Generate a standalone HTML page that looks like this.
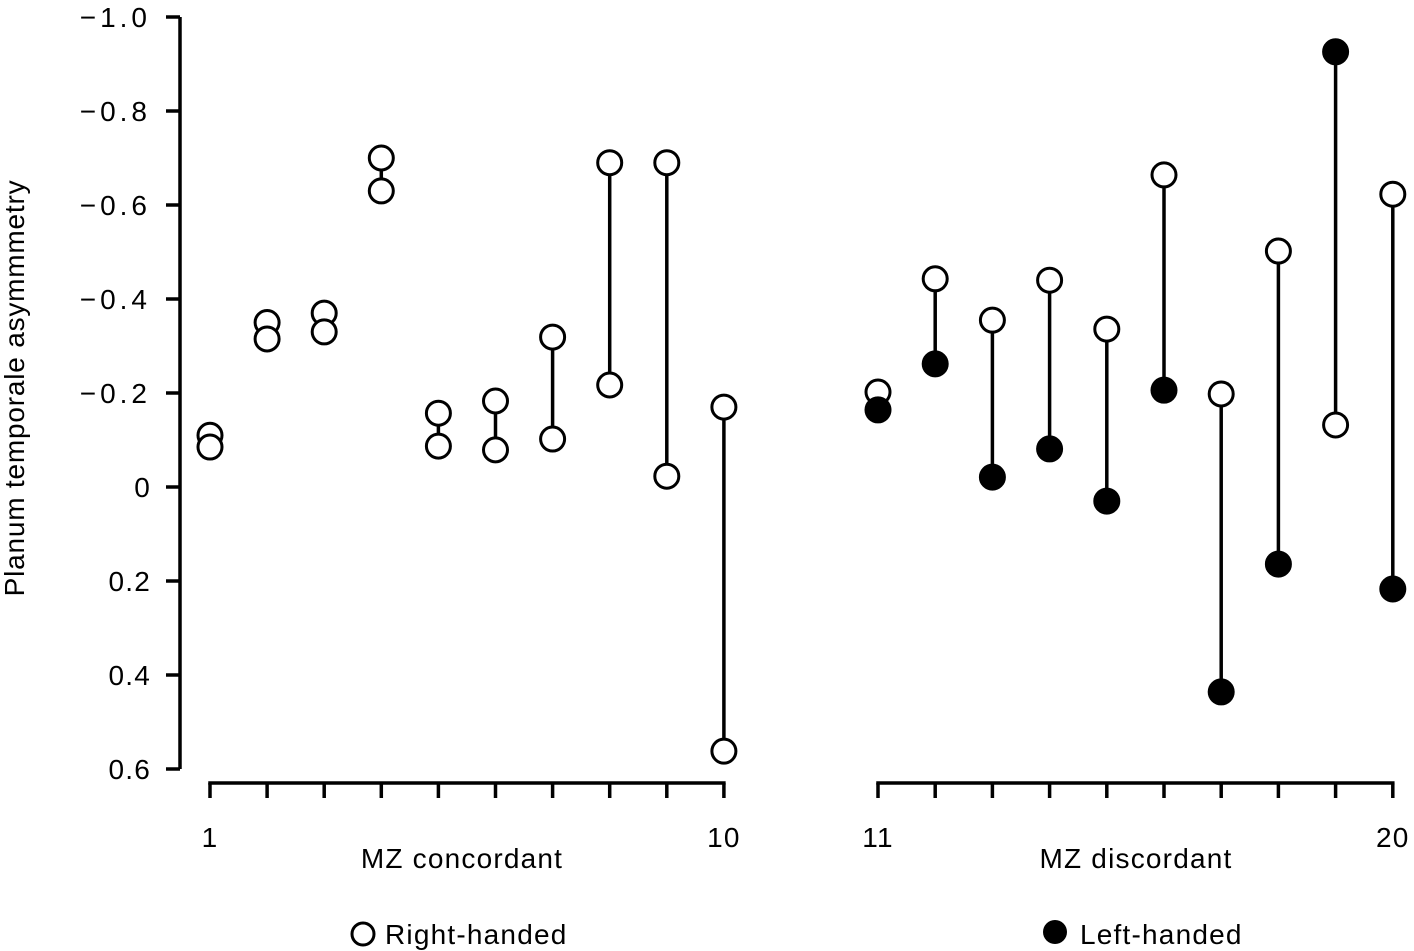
<!DOCTYPE html>
<html><head><meta charset="utf-8"><style>
body{margin:0;background:#fff}
svg{display:block;font-family:"Liberation Sans",sans-serif}
</style></head><body>
<svg id="c" width="1414" height="951"></svg>
<script>
const yTicks=[-1.0,-0.8,-0.6,-0.4,-0.2,0,0.2,0.4,0.6];
const yTickLabels=["\u22121.0","\u22120.8","\u22120.6","\u22120.4","\u22120.2","0","0.2","0.4","0.6"];
const concordantA=[-0.11,-0.35,-0.37,-0.70,-0.157,-0.183,-0.319,-0.69,-0.69,-0.17];
const concordantB=[-0.085,-0.315,-0.33,-0.63,-0.087,-0.079,-0.102,-0.217,-0.023,0.562];
const discordantRight=[-0.202,-0.443,-0.355,-0.44,-0.336,-0.664,-0.198,-0.502,-0.132,-0.623];
const discordantLeft=[-0.164,-0.262,-0.021,-0.081,0.03,-0.206,0.436,0.164,-0.926,0.217];
const ns="http://www.w3.org/2000/svg";
const svg=document.getElementById('c');
function y(v){return 487+v*470;}
function xc(i){return 210+i*57.1;}
function xd(i){return 878+i*57.2;}
function el(t,a,txt){const e=document.createElementNS(ns,t);for(const k in a)e.setAttribute(k,a[k]);if(txt!==undefined)e.textContent=txt;svg.appendChild(e);return e;}
let e;
const FS=28, LS=1.2;
e=el('line',{x1:180,y1:y(-1),x2:180,y2:y(0.6),stroke:'#000','stroke-width':3.5});


yTicks.forEach((v,i)=>{
 e=el('line',{x1:166,y1:y(v),x2:180,y2:y(v),stroke:'#000','stroke-width':3.5});
 
 
 e=el('text',{x:151,y:y(v)+10,'text-anchor':'end','font-size':FS,'letter-spacing':v<0?4:LS},yTickLabels[i]);
 
 
});
e=el('text',{x:24,y:388,'text-anchor':'middle','font-size':FS,'letter-spacing':0.8,transform:'rotate(-90 24 388)'},'Planum temporale asymmmetry');


function xaxis(fx,lab1,lab2,title,cx){
 e=el('line',{x1:fx(0)-1.75,y1:783,x2:fx(9)+1.75,y2:783,stroke:'#000','stroke-width':3.5});
 
 
 for(let i=0;i<10;i++){e=el('line',{x1:fx(i),y1:783,x2:fx(i),y2:798,stroke:'#000','stroke-width':3.5});
 
 }
 e=el('text',{x:fx(0),y:847,'text-anchor':'middle','font-size':FS,'letter-spacing':LS},lab1);
 
 
 e=el('text',{x:fx(9),y:847,'text-anchor':'middle','font-size':FS,'letter-spacing':LS},lab2);
 
 
 e=el('text',{x:cx,y:868,'text-anchor':'middle','font-size':FS,'letter-spacing':LS},title);
 
 
}
xaxis(xc,'1','10','MZ concordant',462);
xaxis(xd,'11','20','MZ discordant',1136);
function pair(x,a,b,fa,fb){
 e=el('line',{x1:x,y1:y(a),x2:x,y2:y(b),stroke:'#000','stroke-width':3.5});
 
 
 [[a,fa],[b,fb]].forEach(p=>{
  e=el('circle',{cx:x,cy:y(p[0]),r:12,fill:p[1]?'#000':'#fff',stroke:'#000','stroke-width':3});
  
  
 });
}
concordantA.forEach((v,i)=>pair(xc(i),v,concordantB[i],false,false));
discordantRight.forEach((v,i)=>pair(xd(i),v,discordantLeft[i],false,true));
e=el('circle',{cx:363,cy:934,r:11,fill:'#fff',stroke:'#000','stroke-width':3});


e=el('text',{x:385,y:944,'font-size':FS,'letter-spacing':LS},'Right-handed');


e=el('circle',{cx:1055,cy:932,r:12,fill:'#000'});


e=el('text',{x:1080,y:944,'font-size':FS,'letter-spacing':LS},'Left-handed');


</script>
</body></html>
